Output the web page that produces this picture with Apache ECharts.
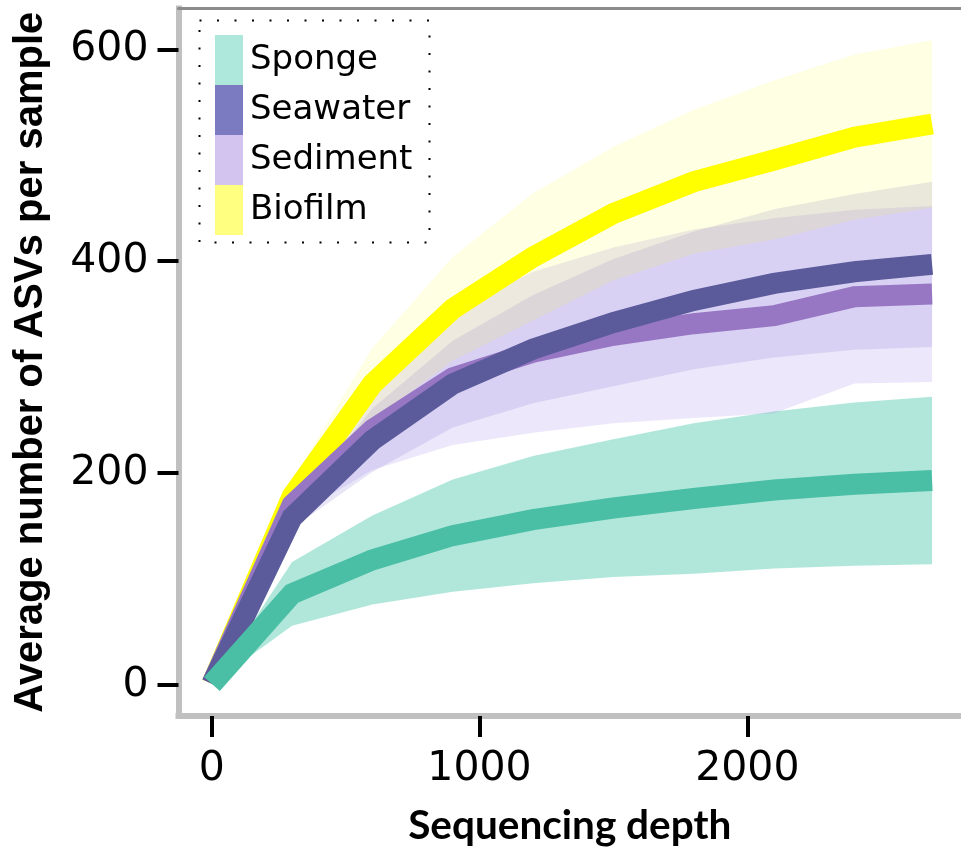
<!DOCTYPE html>
<html>
<head>
<meta charset="utf-8">
<title>Rarefaction curves</title>
<script src="https://cdn.jsdelivr.net/npm/echarts@6/dist/echarts.min.js"></script>
<style>
  html, body { margin: 0; padding: 0; background: #fff; }
  #chart { width: 961px; height: 854px; }
</style>
</head>
<body>
<div id="chart"></div>
<script>
// sequencing depth (x) where the curves were sampled
const depth = [1, 300, 600, 900, 1200, 1500, 1800, 2100, 2400, 2690];

// mean ASVs and spread (+/-) per habitat
const spongeMean   = [1, 86, 118, 141, 156, 167, 176, 184, 189.5, 193];
const spongeSd     = [0, 30, 42, 53, 60, 65, 71, 74, 77, 79];
const seawaterMean = [1, 158, 231, 284, 317, 342, 363, 379, 390, 397];
const seawaterSd   = [0, 10, 30, 41, 51, 60, 65, 70, 73.5, 78];
const sedimentMean = [1, 170, 241, 290, 314, 330, 341, 348.5, 366.5, 369];
const sedimentSd   = [0, 12, 38, 63.5, 76, 83, 89, 92, 82, 83];
const biofilmMean  = [1, 178, 284, 355, 404, 445, 475, 495.5, 517, 529.5];
const biofilmSd    = [0, 15, 34, 49, 60, 63, 68, 75, 78, 79];

const yTicks = [0, 200, 400, 600];
const xTicks = [0, 1000, 2000];

const legendNames = ['Sponge', 'Seawater', 'Sediment', 'Biofilm'];
const legendColors = ['#aee8dc', '#7b7bc2', '#d2c4ee', '#ffff80'];

var chart = echarts.init(document.getElementById('chart'));

// band = one polygon (mean-sd .. mean+sd), drawn through the axes with api.coord
function bandSeries(name, mean, sd, color) {
  return {
    name: name + ' band', type: 'custom', silent: true, z: 1,
    data: depth.map((x, i) => [x, mean[i] - sd[i], mean[i] + sd[i]]),
    renderItem: function (params, api) {
      if (params.dataIndex !== 0) return null;
      var pts = [];
      for (let i = 0; i < depth.length; i++) {
        pts.push(api.coord([depth[i], mean[i] + sd[i]]));
      }
      for (let i = depth.length - 1; i >= 0; i--) {
        pts.push(api.coord([depth[i], mean[i] - sd[i]]));
      }
      return { type: 'polygon', shape: { points: pts }, style: { fill: color } };
    }
  };
}

function meanSeries(name, mean, color, z) {
  return {
    name: name, type: 'line', symbol: 'none', showSymbol: false, silent: true, z: z,
    data: depth.map((x, i) => [x, mean[i]]),
    itemStyle: { color: color },
    lineStyle: { color: color, width: 21, join: 'miter', cap: 'butt' }
  };
}

var series = [
  bandSeries('Sponge', spongeMean, spongeSd, 'rgba(72,200,170,0.43)'),
  bandSeries('Seawater', seawaterMean, seawaterSd, 'rgba(135,115,210,0.19)'),
  bandSeries('Sediment', sedimentMean, sedimentSd, 'rgba(150,120,225,0.18)'),
  bandSeries('Biofilm', biofilmMean, biofilmSd, 'rgba(255,255,0,0.11)'),
  meanSeries('Biofilm', biofilmMean, '#ffff00', 2),
  meanSeries('Sediment', sedimentMean, '#9777c4', 3),
  meanSeries('Seawater', seawaterMean, '#5b5b9c', 4),
  meanSeries('Sponge', spongeMean, '#4bbfa5', 5)
];

const option = {
  animation: false,
  backgroundColor: '#fff',
  grid: { left: 178.5, top: 8.5, right: -2, bottom: 138 },
  legend: {
    orient: 'vertical', left: 210, top: 30,
    itemWidth: 28, itemHeight: 50, itemGap: 0,
    icon: 'rect', selectedMode: false,
    data: legendNames.map((n, i) => ({ name: n, itemStyle: { color: legendColors[i], borderWidth: 0 } })),
    textStyle: { fontFamily: 'DejaVu Sans', fontSize: 34, color: '#000', padding: [0, 0, 0, 2] }
  },
  graphic: [{
    type: 'rect', left: 197, top: 18, z: 10, silent: true,
    shape: { width: 230, height: 222 },
    style: { fill: 'none', stroke: '#000', lineWidth: 2, lineDash: [2, 15.5] }
  }],
  xAxis: [{
    type: 'value', min: -124, max: 2798, position: 'bottom',
    name: 'Sequencing depth', nameLocation: 'middle', nameGap: 89,
    nameTextStyle: { fontFamily: 'Lato', fontWeight: 'bold', fontSize: 40.5, color: '#000' },
    axisLine: { onZero: false, lineStyle: { color: '#c0c0c0', width: 6, cap: 'square' } },
    axisTick: { customValues: xTicks, length: 21, lineStyle: { color: '#000', width: 4 } },
    axisLabel: {
      customValues: xTicks, margin: 33, fontFamily: 'DejaVu Sans', fontSize: 41, color: '#000',
      formatter: v => String(v)
    },
    splitLine: { show: false }
  }, {
    type: 'value', min: -124, max: 2798, position: 'top',
    axisLine: { onZero: false, lineStyle: { color: '#8c8c8c', width: 3 } },
    axisTick: { show: false }, axisLabel: { show: false }, splitLine: { show: false }
  }],
  yAxis: {
    type: 'value', min: -29.3, max: 638.5,
    name: 'Average number of ASVs per sample', nameLocation: 'middle', nameGap: 128,
    nameTextStyle: { fontFamily: 'Liberation Sans', fontWeight: 'bold', fontSize: 40, color: '#000' },
    axisLine: { onZero: false, lineStyle: { color: '#c0c0c0', width: 6, cap: 'square' } },
    axisTick: { customValues: yTicks, length: 21, lineStyle: { color: '#000', width: 4 } },
    axisLabel: { customValues: yTicks, margin: 30, fontFamily: 'DejaVu Sans', fontSize: 41, color: '#000' },
    splitLine: { show: false }
  },
  series: series
};

chart.setOption(option);
</script>
</body>
</html>
